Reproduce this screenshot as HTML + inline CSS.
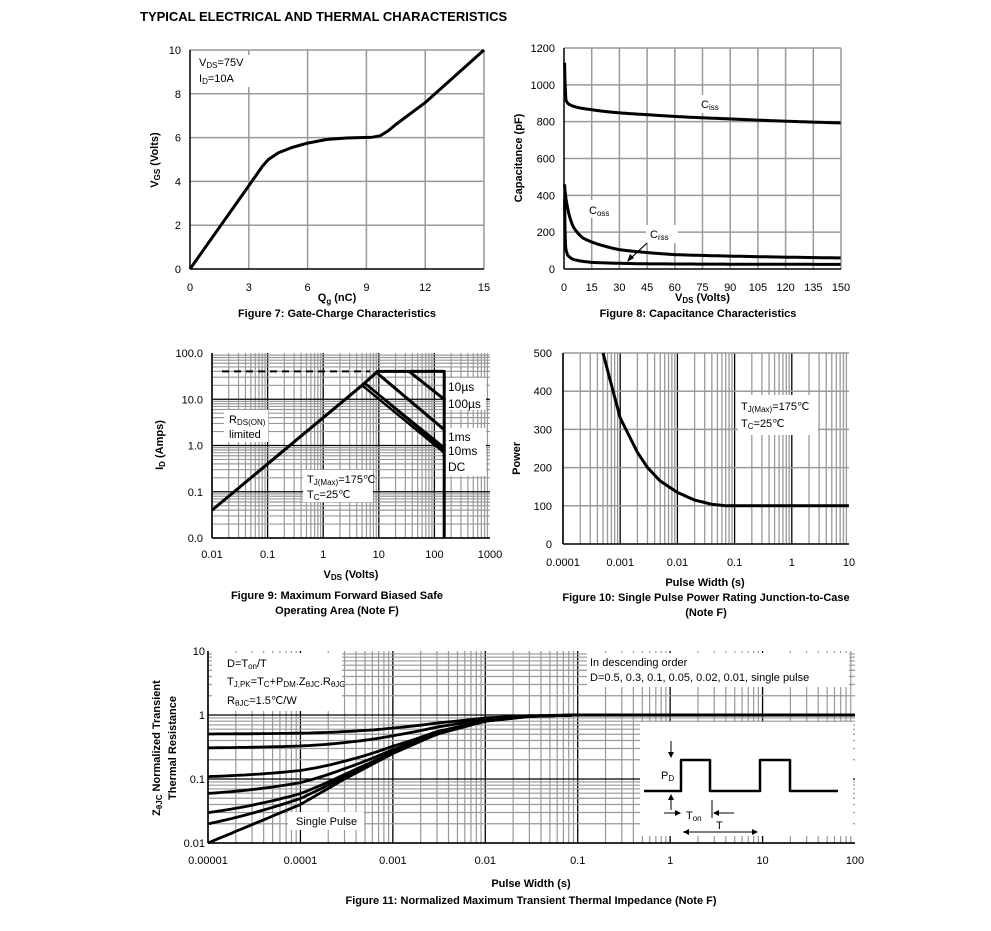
<!DOCTYPE html>
<html><head><meta charset="utf-8"><style>
body{margin:0;background:#fff}
svg text{font-family:"Liberation Sans",Arial,sans-serif;fill:#000}
.b{font-weight:bold}
</style></head><body>
<svg id="s" width="991" height="926" xmlns="http://www.w3.org/2000/svg"></svg>
<script>
const S=document.getElementById('s');let h='';
function L(x1,y1,x2,y2,c,w,d){h+=`<line x1="${x1}" y1="${y1}" x2="${x2}" y2="${y2}" stroke="${c}" stroke-width="${w}"${d?` stroke-dasharray="${d}"`:''}/>`}
function T(x,y,t,sz,anc,cls,extra){h+=`<text x="${x}" y="${y}" font-size="${sz}" text-anchor="${anc||'start'}" ${cls?`class="${cls}"`:''} ${extra||''}>${t}</text>`}
function P(pts,w){h+=`<polyline fill="none" stroke="#000" stroke-width="${w||3}" stroke-linejoin="round" points="${pts.map(p=>p[0].toFixed(1)+','+p[1].toFixed(1)).join(' ')}"/>`}
function R(x,y,w,hh){h+=`<rect x="${x}" y="${y}" width="${w}" height="${hh}" fill="#fff"/>`}
function interp(pts,x){for(let i=0;i<pts.length-1;i++){if(x<=pts[i+1][0])return [pts[i],pts[i+1]];}return [pts[pts.length-2],pts[pts.length-1]];}
T(140,21,'TYPICAL ELECTRICAL AND THERMAL CHARACTERISTICS',13,'start','b');

// Fig 7
{const X=v=>190+v*(294/15),Y=v=>269-v*21.9;
for(let i=1;i<=5;i++)L(X(i*3),50,X(i*3),269,'#999',1.5);
for(let i=1;i<=5;i++)L(190,Y(i*2),484,Y(i*2),'#999',1.5);
L(190,50,190,269,'#000',1.5);L(190,269,484,269,'#000',1.5);
R(194,55,56,32);
T(199,66,'V<tspan font-size="8" dy="2">DS</tspan><tspan dy="-2">=75V</tspan>',11);
T(199,82,'I<tspan font-size="8" dy="2">D</tspan><tspan dy="-2">=10A</tspan>',11);
for(let i=0;i<=5;i++){T(X(i*3),291,i*3,11,'middle');T(181,Y(i*2)+4,i*2,11,'end');}
T(X(7.5),301,'Q<tspan font-size="8" dy="3">g</tspan><tspan dy="-3"> (nC)</tspan>',11,'middle','b');
T(158,160,'V<tspan font-size="8" dy="2">GS</tspan><tspan dy="-2"> (Volts)</tspan>',11,'middle','b','transform="rotate(-90 158 160)"');
T(337,317,'Figure 7: Gate-Charge Characteristics',11,'middle','b');
const c=[[0,0],[3,3.8],[3.7,4.7],[4,5],[4.5,5.3],[5.2,5.55],[6,5.75],[7,5.92],[8,5.98],[9.3,6.02],[9.7,6.08],[10.1,6.3],[10.5,6.6],[12,7.6],[15,10]];
P(c.map(p=>[X(p[0]),Y(p[1])]));}

// Fig 8
{const X=v=>564+v*(277/150),Y=v=>269-v*(221/1200);
for(let i=1;i<=10;i++)L(X(i*15),48,X(i*15),269,'#999',1.5);
for(let i=1;i<=6;i++)L(564,Y(i*200),841,Y(i*200),'#999',1.5);
L(564,48,564,269,'#000',1.5);L(564,269,841,269,'#000',1.5);
for(let i=0;i<=10;i++)T(X(i*15),291,i*15,11,'middle');
for(let i=0;i<=6;i++)T(555,Y(i*200)+4,i*200,11,'end');
T(X(75),301,'V<tspan font-size="8" dy="2">DS</tspan><tspan dy="-2"> (Volts)</tspan>',11,'middle','b');
T(522,158,'Capacitance (pF)',11,'middle','b','transform="rotate(-90 522 158)"');
T(698,317,'Figure 8: Capacitance Characteristics',11,'middle','b');
const cur=(arr)=>{let o=[];for(let v=arr[0][0];v<=150;v+=0.25){const [a,b]=interp(arr,v);const t=(Math.log(v)-Math.log(a[0]))/(Math.log(b[0])-Math.log(a[0]));o.push([X(v),Y(a[1]+(b[1]-a[1])*t)]);}return o;};
P(cur([[0.3,1120],[1,920],[2,900],[15,865],[45,838],[90,815],[150,793]]));
P(cur([[0.3,460],[1,390],[2,330],[5,230],[10,170],[20,130],[30,105],[60,78],[150,60]]));
P(cur([[0.3,380],[0.7,150],[1,110],[2,75],[5,52],[15,36],[45,28],[150,25]]));
R(693,95,30,18);T(701,108,'C<tspan font-size="8" dy="2">iss</tspan>',11);
R(586,200,30,18);T(589,214,'C<tspan font-size="8" dy="2">oss</tspan>',11);
R(646,225,32,18);T(650,238,'C<tspan font-size="8" dy="2">rss</tspan>',11);
L(647,243,630,259,'#000',1.2);h+='<polygon points="627,262 630,254 634,258" fill="#000"/>';}

function logGrid(x0,x1,dx,y0,y1,dy,majC,minC){
for(let d=0;d<dx;d++)for(let k=1;k<=9;k++){const x=x0+(d+Math.log10(k))*(x1-x0)/dx;L(x,y0,x,y1,k==1?majC:minC,k==1?1.3:1.2);}
for(let d=0;d<dy;d++)for(let k=1;k<=9;k++){const y=y1-(d+Math.log10(k))*(y1-y0)/dy;L(x0,y,x1,y,k==1?majC:minC,k==1?1.3:1.2);}
L(x0,y0,x0,y1,'#000',1.5);L(x0,y1,x1,y1,'#000',1.5);}

// Fig 9
{const X=v=>212+(Math.log10(v)+2)*(278/5),Y=v=>538-(Math.log10(v)+2)*(185/4);
logGrid(212,490,5,353,538,4,'#000','#999');
['0.01','0.1','1','10','100','1000'].forEach((t,i)=>T(212+i*278/5,558,t,11,'middle'));
['0.0','0.1','1.0','10.0','100.0'].forEach((t,i)=>T(203,538-i*185/4+4,t,11,'end'));
T(351,578,'V<tspan font-size="8" dy="2">DS</tspan><tspan dy="-2"> (Volts)</tspan>',11,'middle','b');
T(163,445,'I<tspan font-size="8" dy="2">D</tspan><tspan dy="-2"> (Amps)</tspan>',11,'middle','b','transform="rotate(-90 163 445)"');
T(337,599,'Figure 9: Maximum Forward Biased Safe',11,'middle','b');
T(337,614,'Operating Area (Note F)',11,'middle','b');
R(224,410,44,32);R(303,470,70,32);
T(229,423,'R<tspan font-size="8" dy="2">DS(ON)</tspan>',11);T(229,438,'limited',11);
T(307,483,'T<tspan font-size="8" dy="2">J(Max)</tspan><tspan dy="-2">=175℃</tspan>',11);
T(307,498,'T<tspan font-size="8" dy="2">C</tspan><tspan dy="-2">=25℃</tspan>',11);
L(222,Y(40),370,Y(40),'#000',2,'7,5');
P([[X(0.01),Y(0.04)],[X(5),Y(20)]]);
P([[X(5),Y(20)],[X(9.5),Y(40)],[X(150),Y(40)],[X(150),538]]);
P([[X(35),Y(40)],[X(150),Y(10)]]);
P([[X(9.5),Y(36)],[X(150),Y(2.2)]]);
P([[X(5.6),Y(22)],[X(150),Y(0.9)]],2.5);
P([[X(6),Y(21)],[X(150),Y(0.8)]],2.5);
P([[X(5),Y(20)],[X(150),Y(0.7)]],2.5);
R(446,378,40,32);R(446,428,40,48);
T(448,391,'10µs',12);T(448,408,'100µs',12);T(448,441,'1ms',12);T(448,455,'10ms',12);T(448,471,'DC',12);}

// Fig 10
{const X=v=>563+(Math.log10(v)+4)*(286/5),Y=v=>544-v*(191/500);
for(let d=0;d<5;d++)for(let k=1;k<=9;k++){const x=563+(d+Math.log10(k))*286/5;L(x,353,x,544,k==1?'#000':'#999',1.3);}
for(let i=1;i<=5;i++)L(563,Y(i*100),849,Y(i*100),'#999',1.5);
L(563,353,563,544,'#000',1.5);L(563,544,849,544,'#000',1.5);
['0.0001','0.001','0.01','0.1','1','10'].forEach((t,i)=>T(563+i*286/5,566,t,11,'middle'));
for(let i=0;i<=5;i++)T(552,Y(i*100)+4,i*100,11,'end');
T(705,586,'Pulse Width (s)',11,'middle','b');
T(706,601,'Figure 10: Single Pulse Power Rating Junction-to-Case',11,'middle','b');
T(706,616,'(Note F)',11,'middle','b');
T(520,448,'Power (W)',11,'middle','b','transform="rotate(-90 520 448)"');
R(510,400,15,39);
R(738,395,80,40);
T(741,410,'T<tspan font-size="8" dy="2">J(Max)</tspan><tspan dy="-2">=175℃</tspan>',11);
T(741,427,'T<tspan font-size="8" dy="2">C</tspan><tspan dy="-2">=25℃</tspan>',11);
const pts=[[0.0005,500],[0.001,330],[0.002,240],[0.003,200],[0.005,165],[0.01,135],[0.02,115],[0.04,104],[0.07,100],[10,100]];
let o=[];for(let e=Math.log10(0.0005);e<=1;e+=0.02){const v=10**e;const [a,b]=interp(pts,v);const t=(Math.log(v)-Math.log(a[0]))/(Math.log(b[0])-Math.log(a[0]));o.push([X(v),Y(a[1]+(b[1]-a[1])*t)]);}
P(o);}

// Fig 11
{const X=v=>208+(Math.log10(v)+5)*(647/7),Y=v=>843-(Math.log10(v)+2)*64;
logGrid(208,855,7,651,843,3,'#000','#999');
['0.00001','0.0001','0.001','0.01','0.1','1','10','100'].forEach((t,i)=>T(208+i*647/7,864,t,11,'middle'));
['0.01','0.1','1','10'].forEach((t,i)=>T(205,843-i*64+4,t,11,'end'));
T(531,887,'Pulse Width (s)',11,'middle','b');
T(531,904,'Figure 11: Normalized Maximum Transient Thermal Impedance (Note F)',11,'middle','b');
T(160,748,'Z<tspan font-size="8" dy="2">θJC</tspan><tspan dy="-2"> Normalized Transient</tspan>',11,'middle','b','transform="rotate(-90 160 748)"');
T(176,748,'Thermal Resistance',11,'middle','b','transform="rotate(-90 176 748)"');
R(212,653,130,58);R(587,653,262,34);R(640,722,213,114);R(288,812,76,18);
T(227,667,'D=T<tspan font-size="8" dy="2">on</tspan><tspan dy="-2">/T</tspan>',11);
T(227,685,'T<tspan font-size="8" dy="2">J,PK</tspan><tspan dy="-2">=T</tspan><tspan font-size="8" dy="2">C</tspan><tspan dy="-2">+P</tspan><tspan font-size="8" dy="2">DM</tspan><tspan dy="-2">.Z</tspan><tspan font-size="8" dy="2">θJC</tspan><tspan dy="-2">.R</tspan><tspan font-size="8" dy="2">θJC</tspan>',11);
T(227,704,'R<tspan font-size="8" dy="2">θJC</tspan><tspan dy="-2">=1.5℃/W</tspan>',11);
T(590,666,'In descending order',11);T(590,681,'D=0.5, 0.3, 0.1, 0.05, 0.02, 0.01, single pulse',11);
T(296,825,'Single Pulse',11);
const sp=[[1e-5,0.01],[1e-4,0.04],[3e-4,0.1],[1e-3,0.25],[3e-3,0.5],[1e-2,0.8],[3e-2,0.95],[0.1,1],[100,1]];
const zsp=v=>{const [a,b]=interp(sp,v);const t=(Math.log(v)-Math.log(a[0]))/(Math.log(b[0])-Math.log(a[0]));return Math.exp(Math.log(a[1])+(Math.log(b[1])-Math.log(a[1]))*t);};
[0.5,0.3,0.1,0.05,0.02,0.01,0].forEach(D=>{let o=[];for(let e=-5;e<=2.001;e+=0.05){const v=10**e;o.push([X(v),Y(Math.min(1,D+(1-D)*zsp(v)))]);}P(o,2.8);});
P([[644,791],[681,791],[681,760],[710,760],[710,791],[760,791],[760,760],[790,760],[790,791],[838,791]],2.5);
h+='<text x="661" y="779" font-size="11">P<tspan font-size="8" dy="2">D</tspan></text>';
L(671,741,671,756,'#000',1);h+='<polygon points="668,752 674,752 671,758" fill="#000"/>';
L(671,810,671,796,'#000',1);h+='<polygon points="668,800 674,800 671,794" fill="#000"/>';
L(664,813,678,813,'#000',1);h+='<polygon points="675,810 675,816 681,813" fill="#000"/>';
L(734,813,718,813,'#000',1);h+='<polygon points="719,810 719,816 713,813" fill="#000"/>';
L(712,800,712,818,'#000',1);
T(686,819,'T<tspan font-size="8" dy="2">on</tspan>',11);
L(683,832,757,832,'#000',1);h+='<polygon points="683,832 689,829 689,835" fill="#000"/><polygon points="758,832 752,829 752,835" fill="#000"/>';
T(716,829,'T',11);}
S.innerHTML=h;
</script>
</body></html>
